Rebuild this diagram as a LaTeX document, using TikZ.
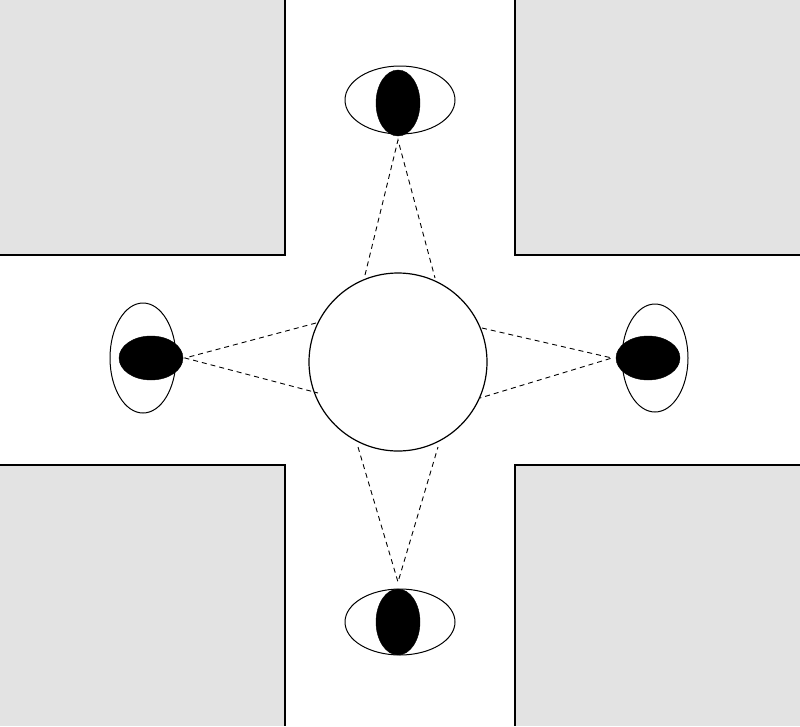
\documentclass[tikz,border=0pt]{standalone}
\begin{document}
\begin{tikzpicture}[x=1pt,y=-1pt,
  block/.style={fill=black!11,draw=none},
  edge/.style={line width=1.2pt},
  outer/.style={draw,line width=1pt,fill=white},
  pupil/.style={fill=black,draw=black},
  sight/.style={dashed,line width=0.9pt,dash pattern=on 5pt off 4pt}]
\useasboundingbox (0,0) rectangle (800,726);
\fill[white] (0,0) rectangle (800,726);
\fill[block] (0,0) rectangle (285,255);
\fill[block] (515,0) rectangle (800,255);
\fill[block] (0,465) rectangle (285,726);
\fill[block] (515,465) rectangle (800,726);
\draw[edge] (0,255) -- (285,255) -- (285,0);
\draw[edge] (800,255) -- (515,255) -- (515,0);
\draw[edge] (0,465) -- (285,465) -- (285,726);
\draw[edge] (800,465) -- (515,465) -- (515,726);
% eyes
\draw[outer] (400,100) ellipse [x radius=55, y radius=34];
\fill[pupil] (398,103) ellipse [x radius=22, y radius=33];
\draw[outer] (400,622) ellipse [x radius=55, y radius=33];
\fill[pupil] (398,622) ellipse [x radius=22, y radius=33];
\draw[outer] (143,358) ellipse [x radius=33, y radius=55];
\fill[pupil] (151,358) ellipse [x radius=32, y radius=22];
\draw[outer] (655,358) ellipse [x radius=33, y radius=54];
\fill[pupil] (648,358) ellipse [x radius=32, y radius=22];
% object
\draw[line width=1.2pt,fill=white] (398,362) circle [radius=89];
\coordinate (t) at (398,140); \coordinate (t1) at (365,275); \coordinate (t2) at (435,278);
\coordinate (b) at (398,582); \coordinate (b1) at (358,447); \coordinate (b2) at (438,447);
\coordinate (l) at (185,358); \coordinate (l1) at (316,323); \coordinate (l2) at (318,393);
\coordinate (r) at (612,358); \coordinate (r1) at (482,328); \coordinate (r2) at (480,398);
\draw[sight] (t1) -- (t) -- (t2);
\draw[sight] (b1) -- (b) -- (b2);
\draw[sight] (l1) -- (l) -- (l2);
\draw[sight] (r1) -- (r) -- (r2);
\end{tikzpicture}
\end{document}
